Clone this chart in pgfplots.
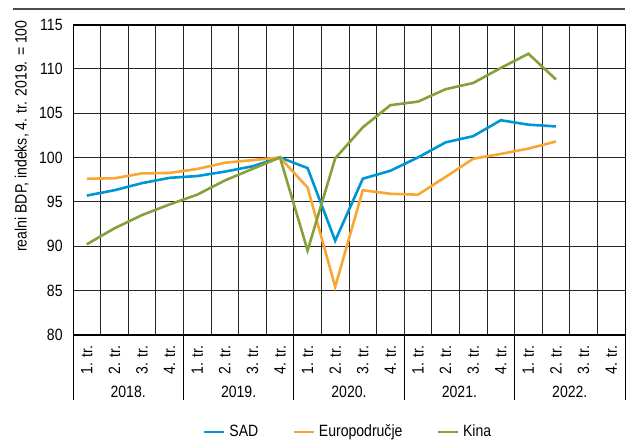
\documentclass[border=0pt]{standalone}
\usepackage{fontspec}
\setmainfont{Liberation Sans}[FakeStretch=0.86]
\usepackage{pgfplots}
\pgfplotsset{compat=1.18}
\definecolor{sad}{RGB}{0,150,214}
\definecolor{euro}{RGB}{248,166,52}
\definecolor{kina}{RGB}{134,160,58}
\begin{document}
\begin{tikzpicture}[font=\fontsize{8.2}{9.8}\selectfont]
\useasboundingbox (-36.5bp,-53.15bp) rectangle (280bp,167.35bp);
\draw[black!70, line width=0.6bp] (-30bp,162.85bp) -- (276bp,162.85bp);
\begin{axis}[
    at={(0,0)}, anchor=south west,
    scale only axis, width=276bp, height=155.1bp,
    xmin=-0.5, xmax=19.5, ymin=80, ymax=115,
    xtick={0,...,19},
    xticklabels={1. tr.,2. tr.,3. tr.,4. tr.,1. tr.,2. tr.,3. tr.,4. tr.,1. tr.,2. tr.,3. tr.,4. tr.,1. tr.,2. tr.,3. tr.,4. tr.,1. tr.,2. tr.,3. tr.,4. tr.},
    minor xtick={0.5,1.5,...,18.5},
    ytick={80,85,...,115},
    xminorgrids, ymajorgrids,
    major tick length=0, minor tick length=0,
    grid style={black!85, line width=0.5bp},
    minor grid style={black!85, line width=0.5bp},
    axis line style={black, line width=0.5bp},
    xticklabel style={rotate=90, anchor=east, inner sep=0pt},
    xticklabel shift=5.5bp,
    yticklabel style={anchor=east, inner sep=0pt},
    yticklabel shift=5bp,
    /pgf/number format/assume math mode=true,
    clip=false,
    legend columns=3,
    legend style={at={(0.5,-0.3137)}, anchor=center, draw=none, fill=none,
        inner sep=0pt, /tikz/every even column/.append style={column sep=15bp}},
    legend image code/.code={\draw[#1] (0bp,0bp) -- (10bp,0bp);},
]
% SAD
\addplot[sad, line width=1.3bp] coordinates {
    (0,95.7) (1,96.3) (2,97.1) (3,97.7) (4,97.9) (5,98.4) (6,99.0) (7,100.0)
    (8,98.8) (9,90.6) (10,97.6) (11,98.5) (12,100.0) (13,101.7) (14,102.4)
    (15,104.2) (16,103.7) (17,103.5)
};
\addlegendentry{SAD}
% Europodrucje
\addplot[euro, line width=1.3bp] coordinates {
    (0,97.6) (1,97.65) (2,98.2) (3,98.25) (4,98.7) (5,99.4) (6,99.7) (7,100.0)
    (8,96.6) (9,85.4) (10,96.3) (11,95.9) (12,95.8) (13,97.8) (14,99.85)
    (15,100.4) (16,101.0) (17,101.8)
};
\addlegendentry{Europodručje}
% Kina
\addplot[kina, line width=1.3bp] coordinates {
    (0,90.2) (1,92.0) (2,93.5) (3,94.7) (4,95.8) (5,97.4) (6,98.7) (7,100.0)
    (8,89.5) (9,99.9) (10,103.4) (11,105.9) (12,106.3) (13,107.7) (14,108.4)
    (15,110.1) (16,111.7) (17,108.8)
};
\addlegendentry{Kina}
\draw[black, line width=1bp] (rel axis cs:0,1) -- (rel axis cs:1,1);
\draw[black, line width=1bp] (rel axis cs:0,0) -- (rel axis cs:1,0);
\pgfplotsinvokeforeach{-0.5,3.5,7.5,11.5,15.5,19.5}{
    \draw[black, line width=0.5bp] (axis cs:#1,80) -- ([yshift=-32.65bp]axis cs:#1,80);
}
\node at (axis cs:1.5,80) [yshift=-28.5bp] {2018.};
\node at (axis cs:5.5,80) [yshift=-28.5bp] {2019.};
\node at (axis cs:9.5,80) [yshift=-28.5bp] {2020.};
\node at (axis cs:13.5,80) [yshift=-28.5bp] {2021.};
\node at (axis cs:17.5,80) [yshift=-28.5bp] {2022.};
\end{axis}
\node[rotate=90, anchor=east, inner sep=0pt] at (-25.6bp,157.35bp) {realni BDP, indeks, 4. tr. 2019. = 100};
\end{tikzpicture}
\end{document}
